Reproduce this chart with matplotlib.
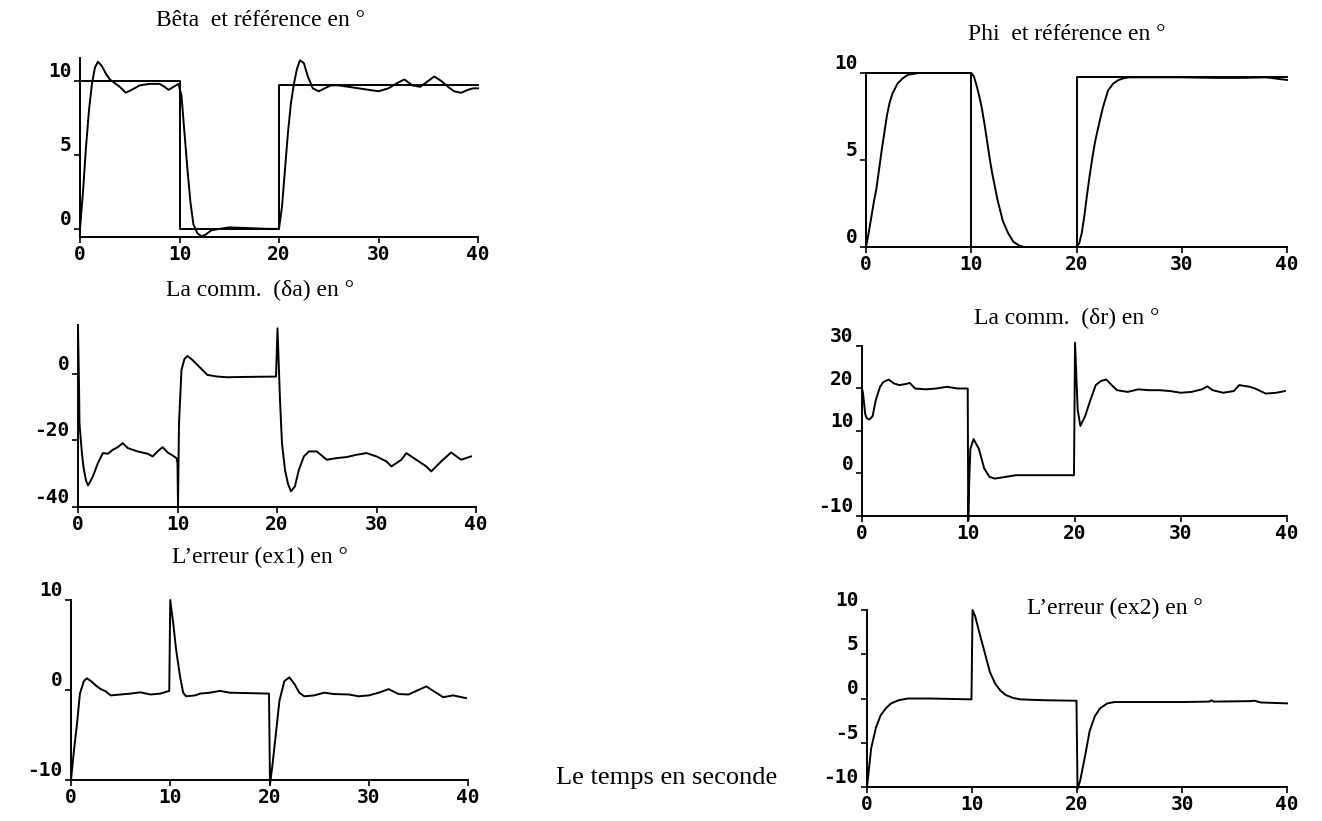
import matplotlib
matplotlib.use('Agg')
import matplotlib.pyplot as plt

W, H = 1322, 821

# reference steps (time, value)
ref_t = [0, 0, 10, 10, 20, 20, 40]
ref_beta = [0, 10, 10, 0, 0, 9.75, 9.75]
ref_phi = [0, 10, 10, 0, 0, 9.75, 9.75]

beta_t = [0, 0.3, 0.6, 0.9, 1.2, 1.5, 1.8, 2.2, 2.6, 3.0, 3.4, 4.0, 4.6, 5.2, 6.0, 7.0,
          8.0, 8.5, 8.9, 9.4, 9.9, 10.2, 10.5, 10.8, 11.1, 11.4, 11.8, 12.2, 12.6, 13.2,
          14.0, 15.0, 17.0, 19.0, 20.0, 20.3, 20.6, 20.9, 21.2, 21.5, 21.8, 22.1, 22.5,
          22.9, 23.4, 24.0, 24.6, 25.2, 26.0, 27.0, 28.0, 29.0, 30.0, 31.0, 32.0, 32.6,
          33.4, 34.2, 35.0, 35.6, 36.3, 37.0, 37.6, 38.3, 39.0, 39.5, 40.0]
beta = [0, 2.5, 5.5, 8.0, 9.8, 10.9, 11.3, 11.0, 10.5, 10.1, 9.9, 9.6, 9.2, 9.4, 9.7, 9.8,
        9.8, 9.6, 9.4, 9.6, 9.8, 9.0, 6.5, 4.0, 1.8, 0.3, -0.3, -0.5, -0.4, -0.1,
        0.0, 0.1, 0.05, 0.0, 0.0, 1.5, 4.0, 6.5, 8.5, 9.8, 10.8, 11.4, 11.2,
        10.3, 9.5, 9.3, 9.5, 9.7, 9.7, 9.6, 9.5, 9.4, 9.3, 9.5, 9.9, 10.1,
        9.7, 9.6, 10.0, 10.3, 10.0, 9.6, 9.3, 9.2, 9.4, 9.5, 9.5]

phi_t = [0, 0.25, 0.5, 0.75, 1.0, 1.25, 1.5, 1.75, 2.0, 2.25, 2.5, 3.0, 3.5, 4.0, 4.5,
         5.0, 7.0, 9.0, 10.0, 10.25, 10.5, 10.75, 11.0, 11.25, 11.5, 11.75, 12.0, 12.5,
         13.0, 13.5, 14.0, 14.5, 15.0, 17.0, 20.0, 20.25, 20.5, 20.75, 21.0, 21.25, 21.5,
         21.75, 22.0, 22.5, 23.0, 23.5, 24.0, 24.5, 25.0, 27.0, 30.0, 33.0, 36.0, 38.0, 40.0]
phi = [0, 0.8, 1.7, 2.6, 3.4, 4.5, 5.6, 6.6, 7.6, 8.3, 8.8, 9.4, 9.7, 9.9, 9.95,
       10, 10, 10, 10, 9.8, 9.3, 8.7, 8.0, 7.1, 6.1, 5.1, 4.2, 2.7,
       1.5, 0.8, 0.3, 0.1, 0, 0, 0, 0.2, 0.8, 1.8, 3.0, 4.1, 5.1,
       6.0, 6.7, 8.0, 9.0, 9.4, 9.6, 9.7, 9.75, 9.75, 9.75, 9.72, 9.72, 9.75, 9.6]

da_t = [0.0, 0.1, 0.15, 0.4, 0.55, 0.8, 1.0, 1.2, 1.5, 2.0, 2.5, 3.0, 3.5, 4.0, 4.5, 5.0,
        5.5, 6.0, 7.0, 7.5, 8.0, 8.5, 9.0, 9.5, 9.9, 10.0, 10.05, 10.15, 10.4, 10.7, 11.0,
        11.5, 12.0, 12.5, 13.0, 14.0, 15.0, 17.0, 19.9, 20.05, 20.3, 20.5, 20.8, 21.1,
        21.4, 21.8, 22.2, 22.7, 23.2, 24.0, 25.0, 26.0, 27.0, 28.0, 29.0, 30.0, 31.0,
        31.5, 32.5, 33.0, 34.0, 35.0, 35.5, 36.5, 37.5, 38.5, 39.5]
da = [14, -3, -15, -24, -28, -32, -33.5, -32.5, -30.8, -26.8, -23.8, -24, -22.8, -22, -20.8, -22.3,
      -22.8, -23.3, -24, -24.8, -23.3, -22, -23.6, -24.5, -25.3, -26.8, -39.5, -15, 1.2, 4.5, 5.4,
      4.2, 2.7, 1.2, -0.3, -0.8, -1.0, -0.9, -0.8, 13.7, -7.8, -20.8, -28.8, -33,
      -35.3, -33.8, -28.8, -24.8, -23.3, -23.3, -25.8, -25.3, -25, -24.3, -23.8, -24.8, -26.3,
      -27.8, -25.8, -23.8, -25.8, -27.8, -29.3, -26.3, -23.6, -25.8, -24.8]

dr_t = [0.0, 0.1, 0.3, 0.45, 0.7, 1.0, 1.3, 1.7, 2.0, 2.5, 3.0, 3.5, 4.0, 4.5, 5.0, 6.0,
        7.0, 8.0, 9.0, 9.95, 10.0, 10.1, 10.2, 10.5, 11.0, 11.5, 12.0, 12.5, 13.5, 14.5,
        17.0, 19.95, 20.05, 20.3, 20.55, 21.0, 21.5, 22.0, 22.5, 23.0, 23.5, 24.0, 25.0,
        26.0, 27.0, 28.0, 29.0, 30.0, 31.0, 32.0, 32.5, 33.0, 34.0, 35.0, 35.5, 36.5,
        37.0, 38.0, 39.0, 39.8]
dr = [20, 18.8, 14, 13, 12.7, 13.5, 17.3, 20.4, 21.5, 22.1, 21.2, 20.8, 21.0, 21.3, 20, 19.8,
      20, 20.4, 20, 20, -11, -1.2, 5.8, 8.1, 5.8, 1.2, -0.8, -1.2, -0.8, -0.4,
      -0.4, -0.4, 30.8, 15, 11.2, 13.5, 17.3, 20.8, 21.8, 22.1, 20.8, 19.6, 19.2,
      19.8, 19.6, 19.6, 19.4, 19, 19.2, 19.8, 20.5, 19.6, 19, 19.4, 20.8, 20.4,
      20, 18.8, 19, 19.4]

e1_t = [0.0, 0.3, 0.6, 0.9, 1.3, 1.6, 2.0, 2.5, 3.0, 3.5, 4.0, 5.0, 6.0, 7.0, 8.0, 9.0,
        9.9, 10.0, 10.3, 10.6, 11.0, 11.3, 11.6, 12.5, 13.0, 14.0, 15.0, 16.0, 19.95,
        20.05, 20.3, 20.6, 21.0, 21.5, 22.0, 22.5, 23.0, 23.5, 24.5, 25.5, 26.5, 28.0,
        29.0, 30.0, 31.0, 32.0, 33.0, 34.0, 35.0, 35.8, 36.5, 37.5, 38.5, 39.8]
e1 = [-10, -6.7, -3.8, -0.4, 1.0, 1.3, 1.0, 0.5, 0.1, -0.15, -0.6, -0.5, -0.4, -0.26, -0.5, -0.4,
      -0.1, 10, 7.4, 4.4, 1.4, -0.3, -0.7, -0.6, -0.4, -0.3, -0.1, -0.3, -0.4,
      -10.5, -8.3, -5.3, -1.2, 1.0, 1.4, 0.7, -0.3, -0.7, -0.6, -0.3, -0.45, -0.5,
      -0.7, -0.6, -0.3, 0.1, -0.45, -0.5, 0, 0.4, -0.1, -0.8, -0.6, -0.9]

e2_t = [0.0, 0.4, 0.85, 1.3, 1.8, 2.3, 3.0, 3.9, 6.0, 9.95, 10.05, 10.3, 10.8, 11.3, 11.7,
        12.2, 12.7, 13.2, 13.9, 14.6, 17.0, 19.95, 20.05, 20.3, 20.8, 21.2, 21.7, 22.2,
        22.9, 23.6, 26.0, 30.0, 32.6, 32.8, 33.0, 36.5, 36.9, 37.5, 40.0]
e2 = [-10, -5.6, -3.3, -1.9, -1.1, -0.55, -0.2, 0, 0, -0.1, 10, 9.3, 7.0, 4.8, 3.0,
      1.7, 0.9, 0.4, 0.07, -0.1, -0.2, -0.25, -10.2, -9.3, -6.3, -3.7, -2.0, -1.1,
      -0.55, -0.4, -0.4, -0.4, -0.35, -0.2, -0.35, -0.3, -0.25, -0.45, -0.55]

x_ticks = [0, 10, 20, 30, 40]

TICK_FONT = {'family': 'DejaVu Sans Mono', 'weight': 'bold', 'size': 14}
TITLE_FONT = {'family': 'Liberation Serif', 'size': 17}


def make_axes(fig, box, ylim, yticks):
    # box = (left, top, right, bottom) in pixels of the scanned page
    l, t, r, b = box
    ax = fig.add_axes([l / W, 1 - b / H, (r - l) / W, (b - t) / H])
    ax.set_xlim(0, 40)
    ax.set_ylim(*ylim)
    for s in ('top', 'right'):
        ax.spines[s].set_visible(False)
    for s in ('left', 'bottom'):
        ax.spines[s].set_linewidth(1.4)
    ax.set_xticks(x_ticks)
    ax.set_yticks(yticks)
    ax.set_xticklabels([str(v) for v in x_ticks], fontdict=TICK_FONT)
    ax.set_yticklabels([str(v) for v in yticks], fontdict=TICK_FONT, va='bottom')
    ax.tick_params(length=4, width=1.2, pad=2)
    return ax


fig = plt.figure(figsize=(W / 100, H / 100), dpi=100)

LW = 1.4

ax1 = make_axes(fig, (80, 58, 478, 237), (-0.55, 11.55), [0, 5, 10])
ax1.plot(ref_t, ref_beta, color='black', lw=LW, clip_on=False)
ax1.plot(beta_t, beta, color='black', lw=LW, clip_on=False)
fig.text(260 / W, 1 - 20 / H, 'Bêta  et référence en °', ha='center', va='center', **TITLE_FONT)

ax2 = make_axes(fig, (866, 73, 1287, 247), (0, 10.0), [0, 5, 10])
ax2.plot(ref_t, ref_phi, color='black', lw=LW, clip_on=False)
ax2.plot(phi_t, phi, color='black', lw=LW, clip_on=False)
fig.text(1067 / W, 1 - 35 / H, 'Phi  et référence en °', ha='center', va='center', **TITLE_FONT)

ax3 = make_axes(fig, (78, 325, 476, 507), (-40, 14.7), [-40, -20, 0])
ax3.plot(da_t, da, color='black', lw=LW, clip_on=False)
fig.text(260 / W, 1 - 290 / H, 'La comm.  (δa) en °', ha='center', va='center', **TITLE_FONT)

ax4 = make_axes(fig, (862, 346, 1287, 516), (-10, 30), [-10, 0, 10, 20, 30])
ax4.plot(dr_t, dr, color='black', lw=LW, clip_on=False)
fig.text(1067 / W, 1 - 318 / H, 'La comm.  (δr) en °', ha='center', va='center', **TITLE_FONT)

ax5 = make_axes(fig, (71, 600, 468, 780), (-10, 10), [-10, 0, 10])
ax5.plot(e1_t, e1, color='black', lw=LW, clip_on=False)
fig.text(260 / W, 1 - 557 / H, "L’erreur (ex1) en °", ha='center', va='center', **TITLE_FONT)

ax6 = make_axes(fig, (867, 610, 1287, 787), (-10, 10), [-10, -5, 0, 5, 10])
ax6.plot(e2_t, e2, color='black', lw=LW, clip_on=False)
fig.text(1115 / W, 1 - 608 / H, "L’erreur (ex2) en °", ha='center', va='center', **TITLE_FONT)

fig.text(667 / W, 1 - 778 / H, 'Le temps en seconde', ha='center', va='center',
         family='Liberation Serif', size=19)

fig.savefig('out.png', dpi=100)
